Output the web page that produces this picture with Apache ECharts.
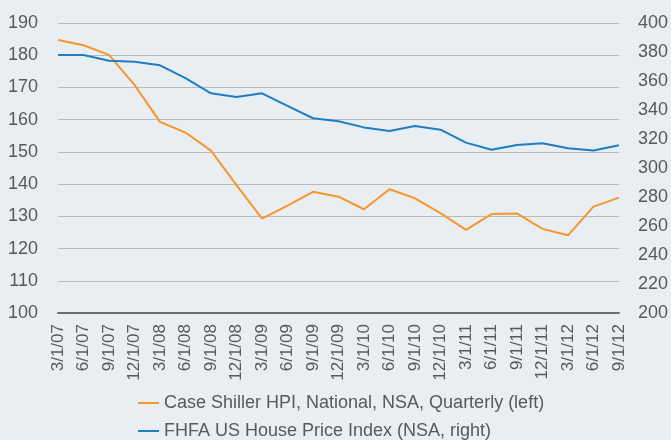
<!DOCTYPE html>
<html>
<head>
<meta charset="utf-8">
<script src="https://cdn.jsdelivr.net/npm/echarts@6/dist/echarts.min.js"></script>
<style>
  html, body { margin: 0; padding: 0; background: #e9eef2; }
  #chart { width: 671px; height: 440px; }
</style>
</head>
<body>
<div id="chart"></div>
<script>
// quarterly dates
var dates = ["3/1/07", "6/1/07", "9/1/07", "12/1/07", "3/1/08", "6/1/08", "9/1/08", "12/1/08",
  "3/1/09", "6/1/09", "9/1/09", "12/1/09", "3/1/10", "6/1/10", "9/1/10", "12/1/10",
  "3/1/11", "6/1/11", "9/1/11", "12/1/11", "3/1/12", "6/1/12", "9/1/12"];

// Case Shiller HPI, National, NSA, Quarterly (left axis)
var caseShiller = [184.7, 183.1, 180.1, 170.8, 159.3, 156.0, 150.4, 139.7,
  129.3, 133.3, 137.6, 136.1, 132.2, 138.4, 135.6, 131.0,
  125.8, 130.7, 130.9, 126.1, 124.1, 133.0, 135.8];

// FHFA US House Price Index (NSA, right axis)
var fhfa = [378, 378, 374, 373.3, 370.8, 362, 351.5, 349,
  351.5, 342.8, 334.3, 332.3, 328, 325.5, 329, 326.4,
  317.5, 312.6, 315.9, 317, 313.6, 312, 315.7];

var leftName = "Case Shiller HPI, National, NSA, Quarterly (left)";
var rightName = "FHFA US House Price Index (NSA, right)";

var myChart = echarts.init(document.getElementById("chart"));
var txt = "#595959";
var font = "Liberation Sans, Arial, sans-serif";

var option = {
  backgroundColor: "#e9eef2",
  animation: false,
  grid: { left: 58, right: 52, top: 23, bottom: 127 },
  legend: {
    orient: "vertical",
    left: 138,
    top: 394,
    height: 46,
    padding: 0,
    itemWidth: 21,
    itemHeight: 2,
    itemGap: 10,
    icon: "rect",
    textStyle: { color: txt, fontSize: 18, fontFamily: font, lineHeight: 18 },
    data: [leftName, rightName],
  },
  xAxis: {
    type: "category",
    data: dates,
    boundaryGap: false,
    axisLine: { show: true, lineStyle: { color: "#6b6b6b", width: 2 } },
    axisTick: { show: false },
    axisLabel: {
      rotate: 90,
      interval: 0,
      margin: 11,
      color: txt,
      fontSize: 17,
      fontFamily: font,
    },
  },
  yAxis: [
    {
      type: "value",
      min: 100,
      max: 190,
      interval: 10,
      position: "left",
      axisLine: { show: false },
      axisTick: { show: false },
      axisLabel: { color: txt, fontSize: 18, fontFamily: font, margin: 20 },
      splitLine: { lineStyle: { color: "#b8babd", width: 1 } },
    },
    {
      type: "value",
      min: 200,
      max: 400,
      interval: 20,
      position: "right",
      axisLine: { show: false },
      axisTick: { show: false },
      axisLabel: { color: txt, fontSize: 18, fontFamily: font, margin: 19 },
      splitLine: { show: false },
    },
  ],
  series: [
    {
      name: leftName,
      type: "line",
      yAxisIndex: 0,
      data: caseShiller,
      symbol: "none",
      lineStyle: { color: "#f7962a", width: 2 },
      itemStyle: { color: "#f7962a" },
    },
    {
      name: rightName,
      type: "line",
      yAxisIndex: 1,
      data: fhfa,
      symbol: "none",
      lineStyle: { color: "#1f7dc4", width: 2 },
      itemStyle: { color: "#1f7dc4" },
    },
  ],
};

option && myChart.setOption(option);
</script>
</body>
</html>
